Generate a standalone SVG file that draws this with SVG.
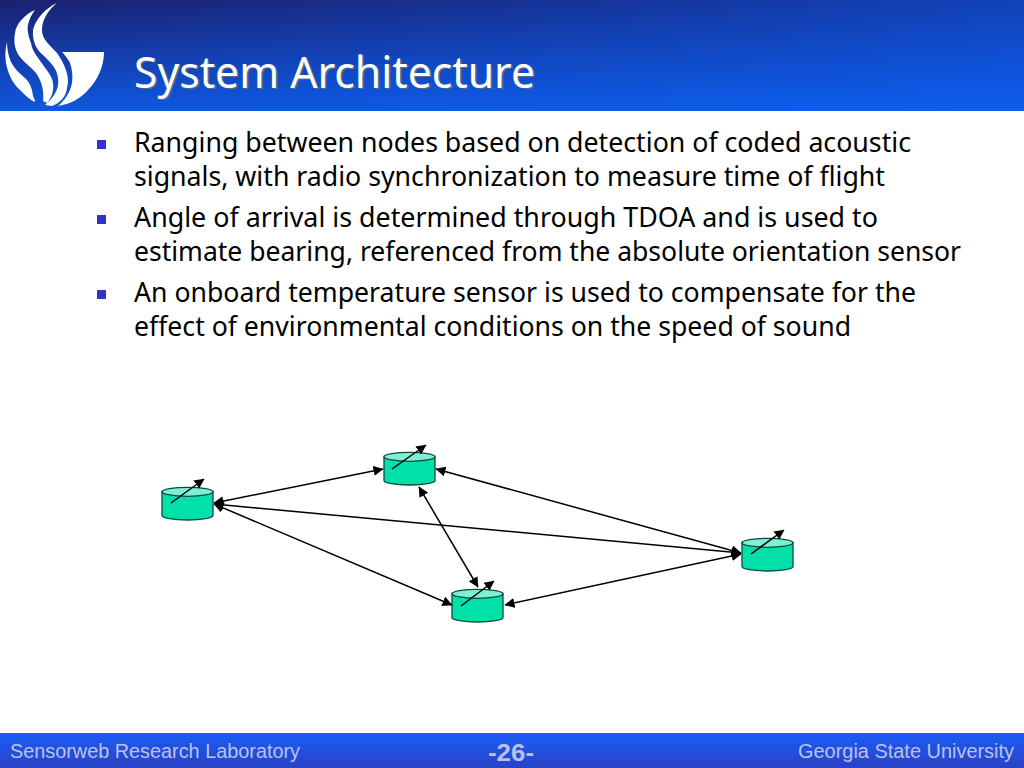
<svg xmlns="http://www.w3.org/2000/svg" width="1024" height="768" viewBox="0 0 1024 768">
<style>
.body{font-family:"Noto Sans","DejaVu Sans",sans-serif;font-size:26.5px;fill:#000}
.foot{font-family:"Liberation Sans",Arial,sans-serif;font-size:20px;fill:#b9c3e6}
.title{font-family:"Noto Sans","DejaVu Sans",sans-serif;font-size:43px}
.cyl{fill:#00e0a8;stroke:#0b4a44;stroke-width:1.3}
.cap{fill:#7cf0d0;stroke:#0b4a44;stroke-width:1.3}
.link{stroke:#000;stroke-width:1.5;fill:none;marker-start:url(#a);marker-end:url(#a)}
.needle{stroke:#000;stroke-width:1.5;fill:none;marker-end:url(#n)}
.bullet{fill:#3333cc}
</style>
<defs>
<linearGradient id="hv" x1="0" y1="0" x2="0" y2="1"><stop offset="0" stop-color="#1a2070"/><stop offset="1" stop-color="#0e58e0"/></linearGradient>
<linearGradient id="hh" x1="0" y1="0" x2="1" y2="0"><stop offset="0" stop-color="#0a64ff" stop-opacity="0"/><stop offset="1" stop-color="#0a64ff" stop-opacity=".5"/></linearGradient>
<linearGradient id="fv" x1="0" y1="0" x2="0" y2="1"><stop offset="0" stop-color="#1a5cf5"/><stop offset="1" stop-color="#2b42c6"/></linearGradient>
<marker id="a" viewBox="0 0 10 10" refX="9.500" refY="5" markerWidth="10" markerHeight="10" markerUnits="userSpaceOnUse" orient="auto-start-reverse"><path d="M0 0L10 5L0 10Z" fill="#000"/></marker>
<marker id="n" viewBox="0 0 10 10" refX="9.500" refY="5" markerWidth="10" markerHeight="10" markerUnits="userSpaceOnUse" orient="auto"><path d="M0 0L10 5L0 10Z" fill="#000"/></marker>
<g id="cylinder"><path class="cyl" d="M0 4.500V28.500A25.500 4.500 0 0 0 51 28.500V4.500Z"/><ellipse class="cap" cx="25.500" cy="4.800" rx="25.500" ry="4.500"/></g>
</defs>
<g id="header">
<rect width="1024" height="111" fill="url(#hv)"/>
<rect width="1024" height="111" fill="url(#hh)"/>
<g id="logo" fill="#fff">
<path d="M57 3C46 8 36 18 33 30C32 42 37 50 43 55C50 62 57 68 58 78C60 90 52 99 45 105L52 106C60 103 66 97 67 88C70 78 66 66 57 53C50 45 42 40 42 30C42 20 48 10 57 3Z"/>
<path d="M35 10C25 14 16 24 15 33C13 44 16 52 20 57C26 65 36 70 39 78C43 86 44 94 43 101L47 103C52 97 54 90 53 83C52 75 46 70 41 62C36 55 32 50 31 43C28 36 27 28 28 25C29 19 32 14 35 10Z"/>
<path d="M7 42C5 50 5 57 6 63C8 74 13 84 20 90C25 95 30 100 35 102C35 100 34 98 33 96C32 88 30 84 27 80C22 75 15 70 11 62C8 55 7 48 7 42Z"/>
<path d="M62 52H104C104 66 98 80 88 90C80 99 70 104 58 106C65 100 70 93 72 83C73 75 72 69 70 63C68 59 65 55 62 52Z"/>
</g>
<text class="title" x="135.500" y="89" fill="#5a6a80" textLength="401" lengthAdjust="spacingAndGlyphs">System Architecture</text>
<text class="title" x="134" y="87.500" fill="#fff" textLength="401" lengthAdjust="spacingAndGlyphs">System Architecture</text>
</g>
<g id="bullets">
<rect class="bullet" x="97" y="140" width="9" height="9"/>
<rect class="bullet" x="97" y="215" width="9" height="9"/>
<rect class="bullet" x="97" y="290" width="9" height="9"/>
<text class="body" x="134" y="152" textLength="777" lengthAdjust="spacingAndGlyphs">Ranging between nodes based on detection of coded acoustic</text>
<text class="body" x="134" y="186" textLength="751" lengthAdjust="spacingAndGlyphs">signals, with radio synchronization to measure time of flight</text>
<text class="body" x="134" y="227" textLength="744" lengthAdjust="spacingAndGlyphs">Angle of arrival is determined through TDOA and is used to</text>
<text class="body" x="134" y="261" textLength="827" lengthAdjust="spacingAndGlyphs">estimate bearing, referenced from the absolute orientation sensor</text>
<text class="body" x="134" y="302" textLength="782" lengthAdjust="spacingAndGlyphs">An onboard temperature sensor is used to compensate for the</text>
<text class="body" x="134" y="336" textLength="717" lengthAdjust="spacingAndGlyphs">effect of environmental conditions on the speed of sound</text>
</g>
<g id="node-left"><use href="#cylinder" x="162" y="487"/><path class="needle" d="M171 503L204 479"/></g>
<g id="node-top"><use href="#cylinder" x="384" y="452"/><path class="needle" d="M392 469L426 445"/></g>
<g id="node-bottom"><use href="#cylinder" x="452" y="589"/><path class="needle" d="M461 606L494 581"/></g>
<g id="node-right"><use href="#cylinder" x="742" y="538"/><path class="needle" d="M751 554L784 530"/></g>
<g id="connectors">
<path class="link" d="M214 503L383 469"/>
<path class="link" d="M214 504L741 553"/>
<path class="link" d="M214 504L452 605"/>
<path class="link" d="M436 469L741 553"/>
<path class="link" d="M419 487L478 587"/>
<path class="link" d="M505 605L741 554"/>
</g>
<g id="footer">
<rect y="733" width="1024" height="35" fill="url(#fv)"/>
<text class="foot" x="10" y="758" textLength="290" lengthAdjust="spacingAndGlyphs">Sensorweb Research Laboratory</text>
<text x="488" y="761" font-family="Liberation Sans,Arial,sans-serif" font-size="24" font-weight="bold" fill="#b9c3e6" textLength="46" lengthAdjust="spacingAndGlyphs">-26-</text>
<text class="foot" x="798" y="758" textLength="216" lengthAdjust="spacingAndGlyphs">Georgia State University</text>
</g>
</svg>
